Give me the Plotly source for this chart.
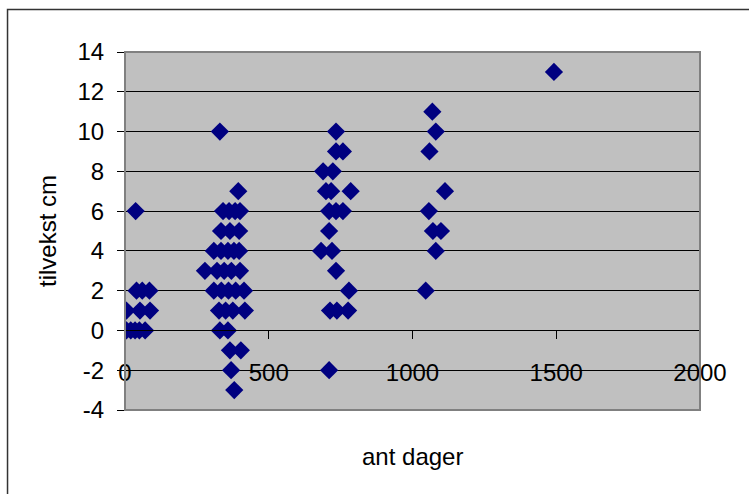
import plotly.graph_objects as go

# Tree growth observations: number of days vs growth in cm
ant_dager = [
    # first weeks
    37, 40, 60, 85, 5, 52, 87, 5, 20, 35, 50, 70,
    # about one year
    330, 394,
    341, 362, 383, 400,
    334, 365, 397,
    309, 334, 358, 379, 397,
    278, 320, 345, 370, 400,
    309, 335, 360, 385, 414,
    327, 350, 375, 417,
    330, 358,
    365, 403,
    369, 380,
    # about two years
    734, 734, 758, 689, 723, 699, 717, 785,
    710, 734, 758, 710, 682, 720, 734, 779,
    713, 737, 776, 710,
    # about three years
    1069, 1081, 1059, 1113, 1057, 1071, 1099, 1081, 1046,
    # about four years
    1492,
]
tilvekst_cm = [
    6, 2, 2, 2, 1, 1, 1, 0, 0, 0, 0, 0,
    10, 7,
    6, 6, 6, 6,
    5, 5, 5,
    4, 4, 4, 4, 4,
    3, 3, 3, 3, 3,
    2, 2, 2, 2, 2,
    1, 1, 1, 1,
    0, 0,
    -1, -1,
    -2, -3,
    10, 9, 9, 8, 8, 7, 7, 7,
    6, 6, 6, 5, 4, 4, 3, 2,
    1, 1, 1, -2,
    11, 10, 9, 7, 6, 5, 5, 4, 2,
    13,
]

x_ticks = [0, 500, 1000, 1500, 2000]
y_ticks = [-4, -2, 0, 2, 4, 6, 8, 10, 12, 14]
y_labels = [str(v) for v in y_ticks]  # plain hyphen minus

FONT = "Liberation Sans, Arial, sans-serif"
FS = 24
Y_MIN, Y_MAX = -4, 14

fig = go.Figure(
    go.Scatter(
        x=ant_dager,
        y=tilvekst_cm,
        mode="markers",
        marker=dict(symbol="diamond", size=14, color="#000080",
                    line=dict(width=0)),
        hoverinfo="x+y",
    )
)

fig.update_layout(
    width=749,
    height=494,
    margin=dict(l=125, r=49, t=52, b=84),
    paper_bgcolor="white",
    plot_bgcolor="#C0C0C0",
    showlegend=False,
    font=dict(family=FONT, size=FS, color="black"),
    xaxis=dict(
        range=[0, 2000],
        tickvals=x_ticks,
        ticktext=[str(v) for v in x_ticks],
        showgrid=False,
        zeroline=False,
        showline=True,
        linecolor="black",
        linewidth=1,
        ticks="outside",
        ticklen=8,
        tickcolor="black",
        ticklabelstandoff=13,
        anchor="free",
        # x axis crosses the y axis at zero
        position=(0 - Y_MIN) / (Y_MAX - Y_MIN),
    ),
    yaxis=dict(
        range=[Y_MIN, Y_MAX],
        tickvals=y_ticks,
        ticktext=y_labels,
        showgrid=True,
        gridcolor="black",
        gridwidth=1,
        zeroline=False,
        showline=True,
        linecolor="black",
        linewidth=1,
        ticks="outside",
        ticklen=7,
        tickcolor="black",
        ticklabelstandoff=8,
        title=dict(text="tilvekst cm", font=dict(size=FS), standoff=14),
    ),
    shapes=[
        # plot area frame
        dict(type="rect", xref="paper", yref="paper", x0=0, x1=1, y0=0, y1=1,
             line=dict(color="#808080", width=2), layer="above"),
        # chart frame
        dict(type="rect", xref="paper", yref="paper",
             x0=-0.2043, x1=2, y0=-2, y1=1.1187,
             line=dict(color="#333333", width=1.5), layer="below"),
    ],
)

# x-axis title sits below the frame, centred under the plot area
fig.add_annotation(text="ant dager", xref="paper", yref="paper",
                   x=0.5, y=(410 - 456) / 358, showarrow=False,
                   font=dict(size=FS, family=FONT), xanchor="center", yanchor="middle")

fig.write_html("out.html")
